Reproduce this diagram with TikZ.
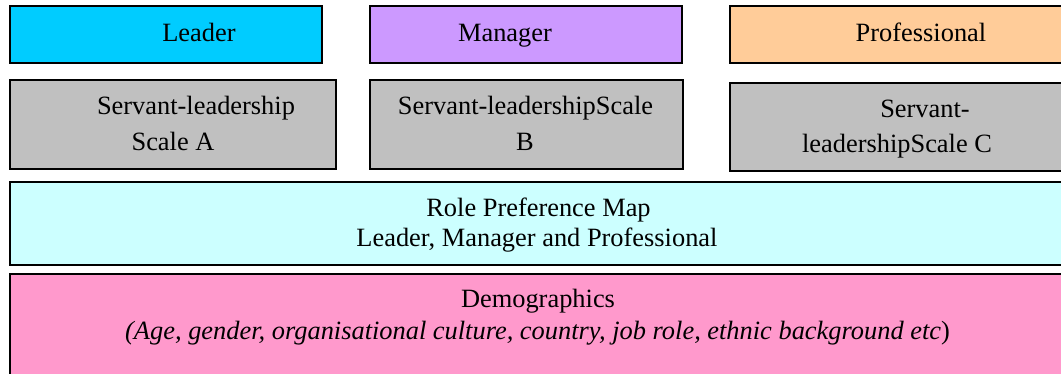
\documentclass[tikz,border=0pt]{standalone}
\usepackage{fontspec}
\setmainfont{Liberation Serif}
\definecolor{leadc}{HTML}{00CCFF}
\definecolor{manc}{HTML}{CC99FF}
\definecolor{proc}{HTML}{FFCC99}
\definecolor{greyc}{HTML}{C0C0C0}
\definecolor{rolec}{HTML}{CCFFFF}
\definecolor{democ}{HTML}{FF99CC}
\begin{document}
\begin{tikzpicture}[x=1pt,y=-1pt,
  box/.style={draw=black, line width=1.6pt, inner sep=0pt, outer sep=0pt, anchor=north west, rectangle},
  txt/.style={inner sep=0pt, anchor=base, font=\fontsize{26.4}{30}\selectfont}]
\useasboundingbox (0,0) rectangle (1061,374);
\fill[white] (0,0) rectangle (1061,374);
\clip (0,0) rectangle (1061,374);
% top row
\node[box, fill=leadc, minimum width=312pt, minimum height=57pt] (leader) at (10,6) {};
\node[box, fill=manc, minimum width=312pt, minimum height=57pt] (manager) at (370,6) {};
\node[box, fill=proc, minimum width=360pt, minimum height=57pt] (prof) at (730,6) {};
\node[txt] (tleader) at (199,42) {Leader};
\node[txt] (tmanager) at (505,42) {Manager};
\node[txt] (tprof) at (921,42) {Professional};
% grey row
\node[box, fill=greyc, minimum width=326pt, minimum height=89pt] (sa) at (10,80) {};
\node[box, fill=greyc, minimum width=313pt, minimum height=89pt] (sb) at (370,80) {};
\node[box, fill=greyc, minimum width=360pt, minimum height=88pt] (sc) at (730,83) {};
\node[txt] (ta1) at (196,115) {Servant-leadership};
\node[txt] (ta2) at (173,151) {Scale A};
\node[txt] (tb1) at (525.5,115) {Servant-leadershipScale};
\node[txt] (tb2) at (525,151) {B};
\node[txt] (tc1) at (925,118) {Servant-};
\node[txt] (tc2) at (897,153) {leadershipScale C};
% role preference map
\node[box, fill=rolec, minimum width=1080pt, minimum height=83pt] (role) at (10,182) {};
\node[txt] (tr1) at (538.5,217) {Role Preference Map};
\node[txt] (tr2) at (537,247) {Leader, Manager and Professional};
% demographics
\node[box, fill=democ, minimum width=1080pt, minimum height=140pt] (demo) at (10,274) {};
\node[txt] (td1) at (538,308) {Demographics};
\node[txt] (td2) at (537.5,340) {\itshape (Age, gender, organisational culture, country, job role, ethnic background etc\upshape)};
\end{tikzpicture}
\end{document}
